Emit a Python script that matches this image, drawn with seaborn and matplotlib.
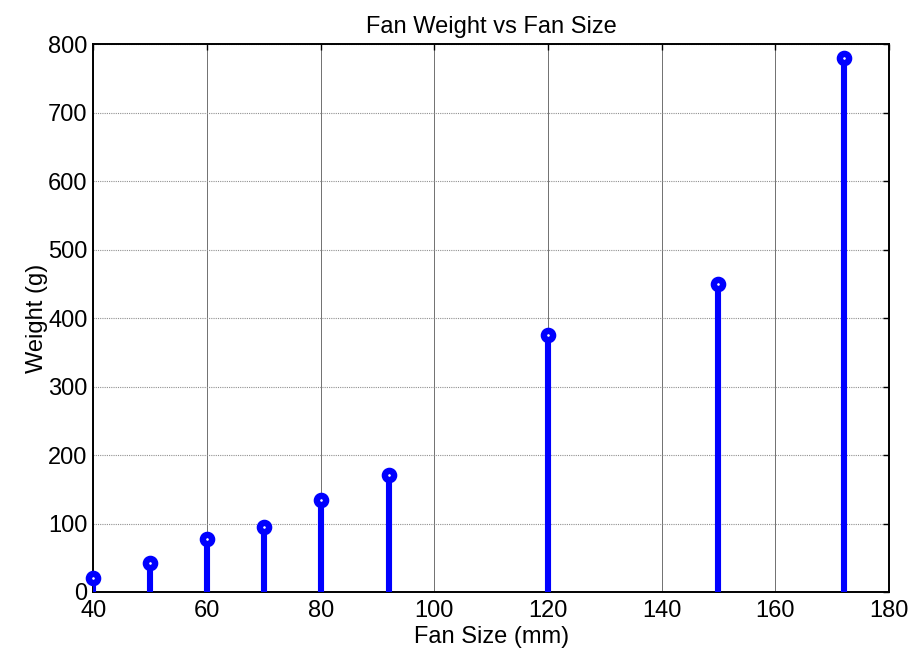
import matplotlib
matplotlib.use("Agg")
import matplotlib.pyplot as plt
import seaborn as sns
import pandas as pd

# Fan size (mm) and measured weight (g)
fan_size = [40, 50, 60, 70, 80, 92, 120, 150, 172]
weight = [20, 43, 78, 95, 135, 171, 375, 450, 780]

x_ticks = [40, 60, 80, 100, 120, 140, 160, 180]
y_ticks = [0, 100, 200, 300, 400, 500, 600, 700, 800]

df = pd.DataFrame({"size": fan_size, "weight": weight})

sns.set_theme(style="white")
plt.rcParams["font.family"] = ["Liberation Sans", "DejaVu Sans"]
plt.rcParams["text.color"] = "black"
plt.rcParams["axes.labelcolor"] = "black"

fig = plt.figure(figsize=(9.13, 6.51), dpi=100)
ax = fig.add_axes([93.3 / 913, 1 - 592 / 651, (889 - 93.3) / 913, (592 - 44.3) / 651])

blue = "#0000FF"
ax.vlines(df["size"], 0, df["weight"], color=blue, linewidth=4.4, zorder=3)
sns.scatterplot(data=df, x="size", y="weight", ax=ax, marker="o", s=44,
                facecolor="white", edgecolor=blue, linewidth=4.6, zorder=4,
                clip_on=False)

ax.set_xlim(40, 180)
ax.set_ylim(0, 800)
ax.set_xticks(x_ticks)
ax.set_yticks(y_ticks)

ax.grid(True, axis="x", color="#707070", linestyle="-", linewidth=0.7)
ax.grid(True, axis="y", color="#909090", linestyle=(0, (1, 1)), linewidth=0.8)
ax.set_axisbelow(True)

for sp in ax.spines.values():
    sp.set_visible(True)
    sp.set_color("black")
    sp.set_linewidth(1.4)

ax.tick_params(direction="in", length=4, width=1, colors="black",
               top=True, right=True, labelsize=17, pad=4)
ax.tick_params(axis="x", pad=6)

ax.set_title("Fan Weight vs Fan Size", fontsize=17, pad=8, color="black")
ax.set_xlabel("Fan Size (mm)", fontsize=17, labelpad=3)
ax.set_ylabel("Weight (g)", fontsize=17, labelpad=0)

fig.savefig("out.png", dpi=100)
